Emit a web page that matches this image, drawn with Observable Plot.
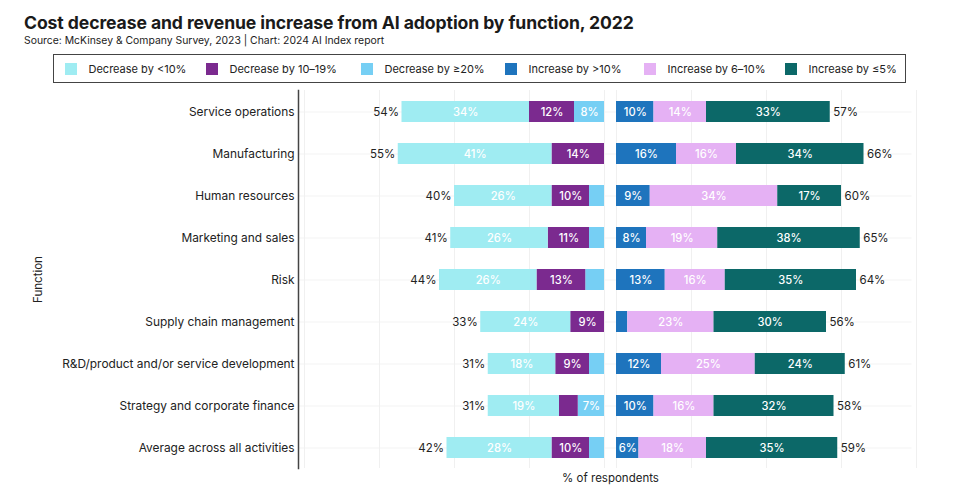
<!DOCTYPE html>
<html>
<head>
<meta charset="utf-8">
<script src="https://cdn.jsdelivr.net/npm/d3@7"></script>
<script src="https://cdn.jsdelivr.net/npm/@observablehq/plot@0.6"></script>
<style>
  body { margin: 0; background: #fff; font-family: Inter, "Noto Sans", sans-serif; color: #222; }
  #wrap { position: relative; width: 958px; height: 500px; overflow: hidden; }
  #header { position: relative; height: 86px; }
  #title { position: absolute; left: 24px; top: 12px; font-size: 17.6px; font-weight: 700; color: #1a1a1a; letter-spacing: -0.1px; white-space: nowrap; }
  #subtitle { position: absolute; left: 24px; top: 34px; font-size: 10.4px; color: #222; white-space: nowrap; }
  #legend { position: absolute; left: 53px; top: 54px; width: 851px; height: 27px; border: 1.5px solid #444; box-sizing: content-box; }
  .item { position: absolute; top: 0; height: 27px; display: flex; align-items: center; font-size: 11px; color: #222; white-space: nowrap; }
  .sw { width: 12px; height: 12px; margin-right: 12px; display: inline-block; }
</style>
</head>
<body>
<div id="wrap">
  <div id="header">
    <div id="title">Cost decrease and revenue increase from AI adoption by function, 2022</div>
    <div id="subtitle">Source: McKinsey &amp; Company Survey, 2023 | Chart: 2024 AI Index report</div>
    <div id="legend"></div>
  </div>
  <div id="chart"></div>
</div>
<script>
const functions = [
  "Service operations",
  "Manufacturing",
  "Human resources",
  "Marketing and sales",
  "Risk",
  "Supply chain management",
  "R&D/product and/or service development",
  "Strategy and corporate finance",
  "Average across all activities"
];
const seriesNames = ["Decrease by <10%", "Decrease by 10–19%", "Decrease by ≥20%", "Increase by >10%", "Increase by 6–10%", "Increase by ≤5%"];
const seriesColors = ["#9fecf2", "#7b2a8f", "#76cff4", "#1e74bd", "#e5b1f4", "#0c6868"];

const decLt10   = [34, 41, 26, 26, 26, 24, 18, 19, 28];
const dec10to19 = [12, 14, 10, 11, 13,  9,  9,  5, 10];
const decGe20   = [ 8,  0,  4,  4,  5,  0,  4,  7,  4];
const incGt10   = [10, 16,  9,  8, 13,  3, 12, 10,  6];
const inc6to10  = [14, 16, 34, 19, 16, 23, 25, 16, 18];
const incLe5    = [33, 34, 17, 38, 35, 30, 24, 32, 35];
const decTotal  = [54, 55, 40, 41, 44, 33, 31, 31, 42];
const incTotal  = [57, 66, 60, 65, 64, 56, 61, 58, 59];

// Legend
const legend = document.getElementById("legend");
const legendX = [10.5, 151.5, 306.5, 450.5, 589.5, 730.5];
seriesNames.forEach((n, i) => {
  const d = document.createElement("div");
  d.className = "item";
  d.style.left = legendX[i] + "px";
  d.innerHTML = `<span class="sw" style="background:${seriesColors[i]}"></span>${n}`;
  legend.appendChild(d);
});

// Build segment table (decrease stacked outward to the left as negatives; increase to the right)
const segs = [];
functions.forEach((f, i) => {
  let acc = 0;
  [[2, decGe20[i]], [1, dec10to19[i]], [0, decLt10[i]]].forEach(([s, v]) => {
    segs.push({fn: f, series: seriesNames[s], side: "dec", x1: -acc, x2: -(acc + v), v});
    acc += v;
  });
  acc = 0;
  [[3, incGt10[i]], [4, inc6to10[i]], [5, incLe5[i]]].forEach(([s, v]) => {
    segs.push({fn: f, series: seriesNames[s], side: "inc", x1: acc, x2: acc + v, v});
    acc += v;
  });
});
const decSegs = segs.filter(d => d.side === "dec");
const incSegs = segs.filter(d => d.side === "inc");
const totals = functions.map((f, i) => ({fn: f, dec: decTotal[i], inc: incTotal[i]}));

const GAP = 12;
const leftGrid = [0, -20, -40, -60, -80];
const rightGrid = [0, 20, 40, 60, 80];

const chart = Plot.plot({
  width: 958,
  height: 414,
  marginTop: 4,
  marginBottom: 32,
  marginLeft: 298,
  marginRight: 46.5,
  style: {fontFamily: "Inter, 'Noto Sans', sans-serif", background: "#fff"},
  x: {domain: [-81.6, 82], axis: null},
  y: {domain: functions, paddingInner: 0.5, paddingOuter: 0.25, label: null},
  color: {domain: seriesNames, range: seriesColors},
  marks: [
    Plot.ruleY(functions, {y: d => d, stroke: "#f3f3f3", strokeWidth: 1}),
    Plot.ruleX(leftGrid, {x: d => d, stroke: "#f0f0f0", strokeWidth: 1}),
    Plot.ruleX(rightGrid, {x: d => d, dx: GAP, stroke: "#f0f0f0", strokeWidth: 1}),
    Plot.barX(decSegs, {y: "fn", x1: "x1", x2: "x2", fill: "series"}),
    Plot.barX(incSegs, {y: "fn", x1: "x1", x2: "x2", fill: "series", dx: GAP}),
    Plot.text(decSegs.filter(d => d.v >= 6), {y: "fn", x: d => (d.x1 + d.x2) / 2, text: d => d.v + "%", fill: "white", fontSize: 11.2, fontWeight: 500}),
    Plot.text(incSegs.filter(d => d.v >= 6), {y: "fn", x: d => (d.x1 + d.x2) / 2, dx: GAP, text: d => d.v + "%", fill: "white", fontSize: 11.2, fontWeight: 500}),
    Plot.text(totals, {y: "fn", x: d => -d.dec, dx: -3, text: d => d.dec + "%", textAnchor: "end", fill: "#222", fontSize: 11.5}),
    Plot.text(totals, {y: "fn", x: d => d.inc, dx: GAP + 3, text: d => d.inc + "%", textAnchor: "start", fill: "#222", fontSize: 11.5}),
    Plot.axisY({tickSize: 0, tickPadding: 4, fontSize: 11.9, color: "#222", label: null}),
    Plot.frame({anchor: "left", stroke: "#444", strokeWidth: 1.5}),
    Plot.text(["% of respondents"], {x: 0, dx: 6, frameAnchor: "bottom", dy: 13, fontSize: 11.5, fill: "#222", textAnchor: "middle"}),
    Plot.text(["Function"], {frameAnchor: "left", dx: -260, rotate: -90, fontSize: 11.5, fill: "#222", textAnchor: "middle"})
  ]
});
document.getElementById("chart").appendChild(chart);
</script>
</body>
</html>
